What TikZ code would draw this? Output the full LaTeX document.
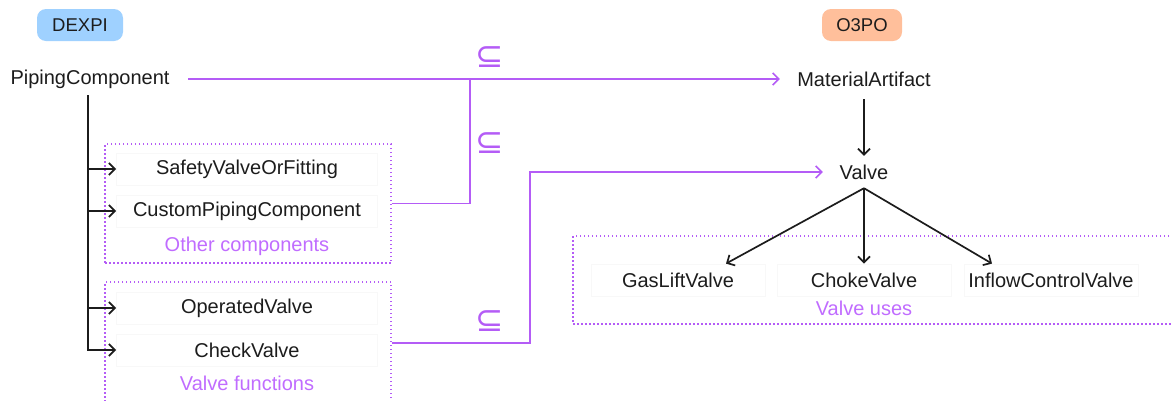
\documentclass[tikz,border=0pt]{standalone}
\usepackage{fontspec}
\setmainfont{Liberation Sans}
\newfontfamily\symfont{DejaVu Sans}
\usetikzlibrary{arrows.meta}
\definecolor{pur}{HTML}{B45CF6}
\definecolor{purtext}{HTML}{C06CFF}
\definecolor{dexpi}{HTML}{9FD1FF}
\definecolor{othree}{HTML}{FFBF9B}
\definecolor{ink}{HTML}{1C1C1C}
\definecolor{faint}{HTML}{F8F8F8}
\begin{document}
\begin{tikzpicture}[x=1pt,y=-1pt,
  lbl/.style={font=\fontsize{20}{24}\selectfont, text=ink, inner sep=0pt, anchor=center},
  item/.style={lbl, draw=faint, line width=0.8pt, minimum width=261pt, minimum height=32pt},
  badge/.style={rounded corners=9pt, font=\fontsize{18.5}{22}\selectfont, text=ink, minimum height=32pt, inner sep=0pt},
  grouplbl/.style={font=\fontsize{20}{24}\selectfont, text=purtext, inner sep=0pt},
  group/.style={draw=pur, line width=1.2pt, dash pattern=on 1.5pt off 2.5pt, inner sep=0pt},
  subs/.style={text=pur, font=\symfont\fontsize{34}{38}\selectfont, inner sep=0pt},
  barb/.style={-{Straight Barb[length=6pt,width=12pt]}},
  blk/.style={draw=ink, line width=1.7pt, barb},
  purp/.style={draw=pur, line width=1.6pt}
]
\useasboundingbox (0,0) rectangle (1171,400);

% badges
\node[badge, fill=dexpi, minimum width=86pt] (dexpi) at (80,25) {DEXPI};
\node[badge, fill=othree, minimum width=80pt] (othree) at (862,25) {O3PO};

% groups
\node[group, minimum width=286pt, minimum height=119pt] (other) at (248,203.5) {};
\node[group, minimum width=286pt, minimum height=122pt] (vfun) at (248,343) {};
\node[group, minimum width=602pt, minimum height=88pt] (vuse) at (874,280) {};

% left nodes
\node[lbl, minimum width=196pt, minimum height=32pt] (pc) at (90,79) {PipingComponent};
\node[item] (svf) at (247,169) {SafetyValveOrFitting};
\node[item] (cpc) at (247,211) {CustomPipingComponent};
\node[grouplbl] (ocl) at (247,246) {Other components};
\node[item] (ov) at (247,308) {OperatedValve};
\node[item] (cv) at (247,350) {CheckValve};
\node[grouplbl] (vfl) at (247,383) {Valve functions};

% right nodes
\node[lbl, minimum width=168pt, minimum height=40pt] (ma) at (864,79) {MaterialArtifact};
\node[lbl, minimum width=82pt, minimum height=32pt] (valve) at (864,172) {Valve};
\node[item, minimum width=174pt] (glv) at (678,280) {GasLiftValve};
\node[item, minimum width=174pt] (chv) at (864,280) {ChokeValve};
\node[item, minimum width=174pt] (icv) at (1051,280) {InflowControlValve};
\node[grouplbl] (vul) at (864,308) {Valve uses};

% subset symbols
\node[subs] (s1) at (490,57) {⊆};
\node[subs] (s2) at (490,143) {⊆};
\node[subs] (s3) at (490,321) {⊆};

% black tree
\draw[blk] ([xshift=-2pt]pc.south) |- (svf.west);
\draw[blk] ([xshift=-2pt]pc.south) |- (cpc.west);
\draw[blk] ([xshift=-2pt]pc.south) |- (ov.west);
\draw[blk] ([xshift=-2pt]pc.south) |- (cv.west);
\draw[blk] (ma.south) -- (valve.north);
\draw[blk] (valve.south) -- ([xshift=48pt]glv.north);
\draw[blk] (valve.south) -- (chv.north);
\draw[blk] (valve.south) -- ([xshift=-59pt]icv.north);

% purple connectors
\coordinate (j1) at (470,79);
\coordinate (j2) at (530,258);
\draw[purp, barb] (pc.east) -- (ma.west);
\draw[purp] (other.east) -| (j1);
\draw[purp, barb] (vfun.east) -| (j2) |- (valve.west);
\end{tikzpicture}
\end{document}
